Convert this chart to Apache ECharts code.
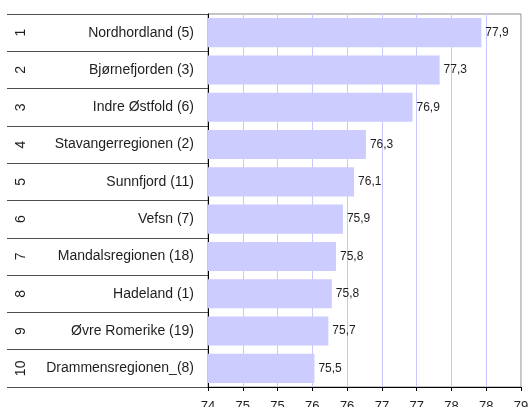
<!DOCTYPE html>
<html>
<head>
<meta charset="utf-8">
<script src="https://cdn.jsdelivr.net/npm/echarts@6/dist/echarts.min.js"></script>
<style>
html,body{margin:0;padding:0;background:#fff;}
#chart{width:528px;height:407px;}
</style>
</head>
<body>
<div id="chart"></div>
<script>
const categories = ['Nordhordland (5)', 'Bjørnefjorden (3)', 'Indre Østfold (6)', 'Stavangerregionen (2)', 'Sunnfjord (11)', 'Vefsn (7)', 'Mandalsregionen (18)', 'Hadeland (1)', 'Øvre Romerike (19)', 'Drammensregionen_(8)'];
const ranks = ['1', '2', '3', '4', '5', '6', '7', '8', '9', '10'];
const values = [77.93, 77.33, 76.94, 76.27, 76.10, 75.94, 75.84, 75.78, 75.73, 75.53];
const xTickLabels = ['74', '75', '75', '76', '76', '77', '77', '78', '78', '79'];
const xMin = 74, xMax = 78.5, xStep = 0.5;

const FONT = 'Liberation Sans, Arial, sans-serif';
const TXT = '#1e1e1e';
const chart = echarts.init(document.getElementById('chart'), null, {renderer: 'canvas'});
chart.setOption({
  animation: false,
  backgroundColor: '#ffffff',
  textStyle: {fontFamily: FONT},
  grid: [
    {left: 7, right: 320, top: 14, bottom: 20, containLabel: false, outerBoundsMode: 'none'},
    {left: 208, right: 7, top: 14, bottom: 20, containLabel: false, outerBoundsMode: 'none', show: true, borderColor: '#8c8c8c', borderWidth: 1, backgroundColor: 'transparent'}
  ],
  xAxis: [
    {gridIndex: 0, type: 'value', show: false, min: 0, max: 1},
    {
      gridIndex: 1, type: 'value', min: xMin, max: xMax, interval: xStep,
      axisLine: {show: true, lineStyle: {color: '#000', width: 1}},
      axisTick: {show: true, length: 4, lineStyle: {color: '#000'}},
      axisLabel: {
        margin: 13, fontSize: 13, color: TXT, fontFamily: FONT,
        formatter: function (v) { return xTickLabels[Math.round((v - xMin) / xStep)]; }
      },
      splitLine: {show: true, lineStyle: {color: '#c8c8ff', width: 1}}
    }
  ],
  yAxis: [
    {
      gridIndex: 0, type: 'category', data: categories, inverse: true, position: 'right',
      axisLine: {show: false}, axisTick: {show: false},
      axisLabel: {inside: true, margin: 14, fontSize: 14, color: TXT, fontFamily: FONT},
      splitLine: {show: true, lineStyle: {color: '#505050', width: 1}}
    },
    {
      gridIndex: 0, type: 'category', data: ranks, inverse: true, position: 'left',
      axisLine: {show: false}, axisTick: {show: false},
      axisLabel: {inside: true, rotate: 90, margin: 7, fontSize: 14, color: TXT, fontFamily: FONT},
      splitLine: {show: false}
    },
    {
      gridIndex: 1, type: 'category', data: categories, inverse: true,
      axisLine: {show: true, lineStyle: {color: '#000', width: 1}},
      axisTick: {show: false},
      axisLabel: {show: false},
      splitLine: {show: false}
    }
  ],
  series: [{
    type: 'bar',
    xAxisIndex: 1, yAxisIndex: 2,
    data: values,
    barCategoryGap: '22%',
    itemStyle: {color: '#ccccff'},
    label: {
      show: true, position: 'right', distance: 4, fontSize: 12, color: TXT, fontFamily: FONT,
      formatter: function (p) { return p.value.toFixed(1).replace('.', ','); }
    }
  }]
});
</script>
</body>
</html>
